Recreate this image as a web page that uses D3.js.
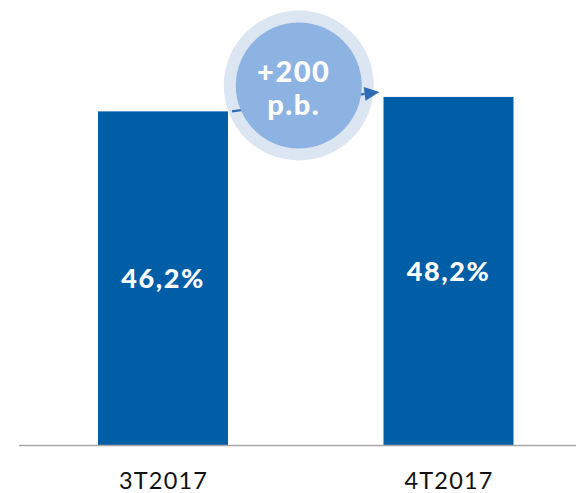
<!DOCTYPE html>
<html><head><meta charset="utf-8">
<script src="https://cdn.jsdelivr.net/npm/d3@7"></script>
<style>html,body{margin:0;padding:0;background:#fff;}svg{display:block;}</style>
</head><body>
<svg id="c" width="576" height="493"></svg>
<script>
const categories = ["3T2017", "4T2017"];
const values = [46.2, 48.2];
const valueLabels = ["46,2%", "48,2%"];
const bubbleLines = ["+200", "p.b."];

const svg = d3.select("#c");
const W = 576, H = 493;
const baseY = 445.5;
const x = d3.scalePoint().domain(categories).range([163, 448.5]);
const bw = 130;
const y = d3.scaleLinear().domain([0, 61.6]).range([baseY, 0]);
const FONT = "Lato, 'Open Sans', sans-serif";

// bars
svg.selectAll("rect.bar").data(values).enter().append("rect")
  .attr("class", "bar")
  .attr("x", (d, i) => x(categories[i]) - bw / 2)
  .attr("y", d => y(d))
  .attr("width", bw)
  .attr("height", d => baseY - y(d))
  .attr("fill", "#005EA6");

// axis
const axis = d3.axisBottom(x).tickSize(0).tickPadding(0);
const ag = svg.append("g").attr("transform", `translate(0,${baseY})`).call(axis);
ag.select(".domain").remove();
ag.append("line").attr("x1", 19).attr("x2", W).attr("y1", 0).attr("y2", 0)
  .attr("stroke", "#A6A6A6").attr("stroke-width", 1.5);
ag.selectAll(".tick text")
  .attr("dy", 0).attr("y", 43)
  .attr("font-family", FONT)
  .attr("font-size", 23.5).attr("letter-spacing", 1.2).attr("fill", "#111");

// value labels
svg.selectAll("text.val").data(values).enter().append("text")
  .attr("class", "val")
  .attr("x", (d, i) => x(categories[i]))
  .attr("y", d => (y(d) + baseY) / 2 + 10)
  .attr("text-anchor", "middle")
  .attr("font-family", FONT)
  .attr("font-weight", 900).attr("font-size", 27).attr("letter-spacing", 1.6).attr("fill", "#fff")
  .text((d, i) => valueLabels[i]);

// bubble outer ring
const cx = (x(categories[0]) + x(categories[1])) / 2 - 7, cy = 85.5;
svg.append("circle").attr("cx", cx).attr("cy", cy).attr("r", 75).attr("fill", "#DCE6F2");

// arrow (above ring, below inner circle)
const ax0 = x(categories[0]) + bw / 2 + 4, ay0 = y(values[0]);
const ax1 = x(categories[1]) - bw / 2 - 4, ay1 = y(values[1]) - 5;
const ang = Math.atan2(ay1 - ay0, ax1 - ax0);
const hl = 15, hw = 7;
const bx = ax1 - hl * Math.cos(ang), by = ay1 - hl * Math.sin(ang);
svg.append("line").attr("x1", ax0).attr("y1", ay0).attr("x2", bx).attr("y2", by)
  .attr("stroke", "#2E6DB4").attr("stroke-width", 2.2);
svg.append("path")
  .attr("d", `M${ax1},${ay1}L${bx - hw * Math.sin(ang)},${by + hw * Math.cos(ang)}L${bx + hw * Math.sin(ang)},${by - hw * Math.cos(ang)}Z`)
  .attr("fill", "#2E6DB4");

// inner circle + text
svg.append("circle").attr("cx", cx).attr("cy", cy).attr("r", 63).attr("fill", "#8DB3E2");
svg.selectAll("text.bub").data(bubbleLines).enter().append("text")
  .attr("class", "bub")
  .attr("x", cx - 5).attr("y", (d, i) => 82 + i * 33)
  .attr("text-anchor", "middle")
  .attr("font-family", FONT)
  .attr("font-weight", 900).attr("font-size", 29).attr("letter-spacing", 1.5).attr("fill", "#fff")
  .text(d => d);
</script>
</body></html>
